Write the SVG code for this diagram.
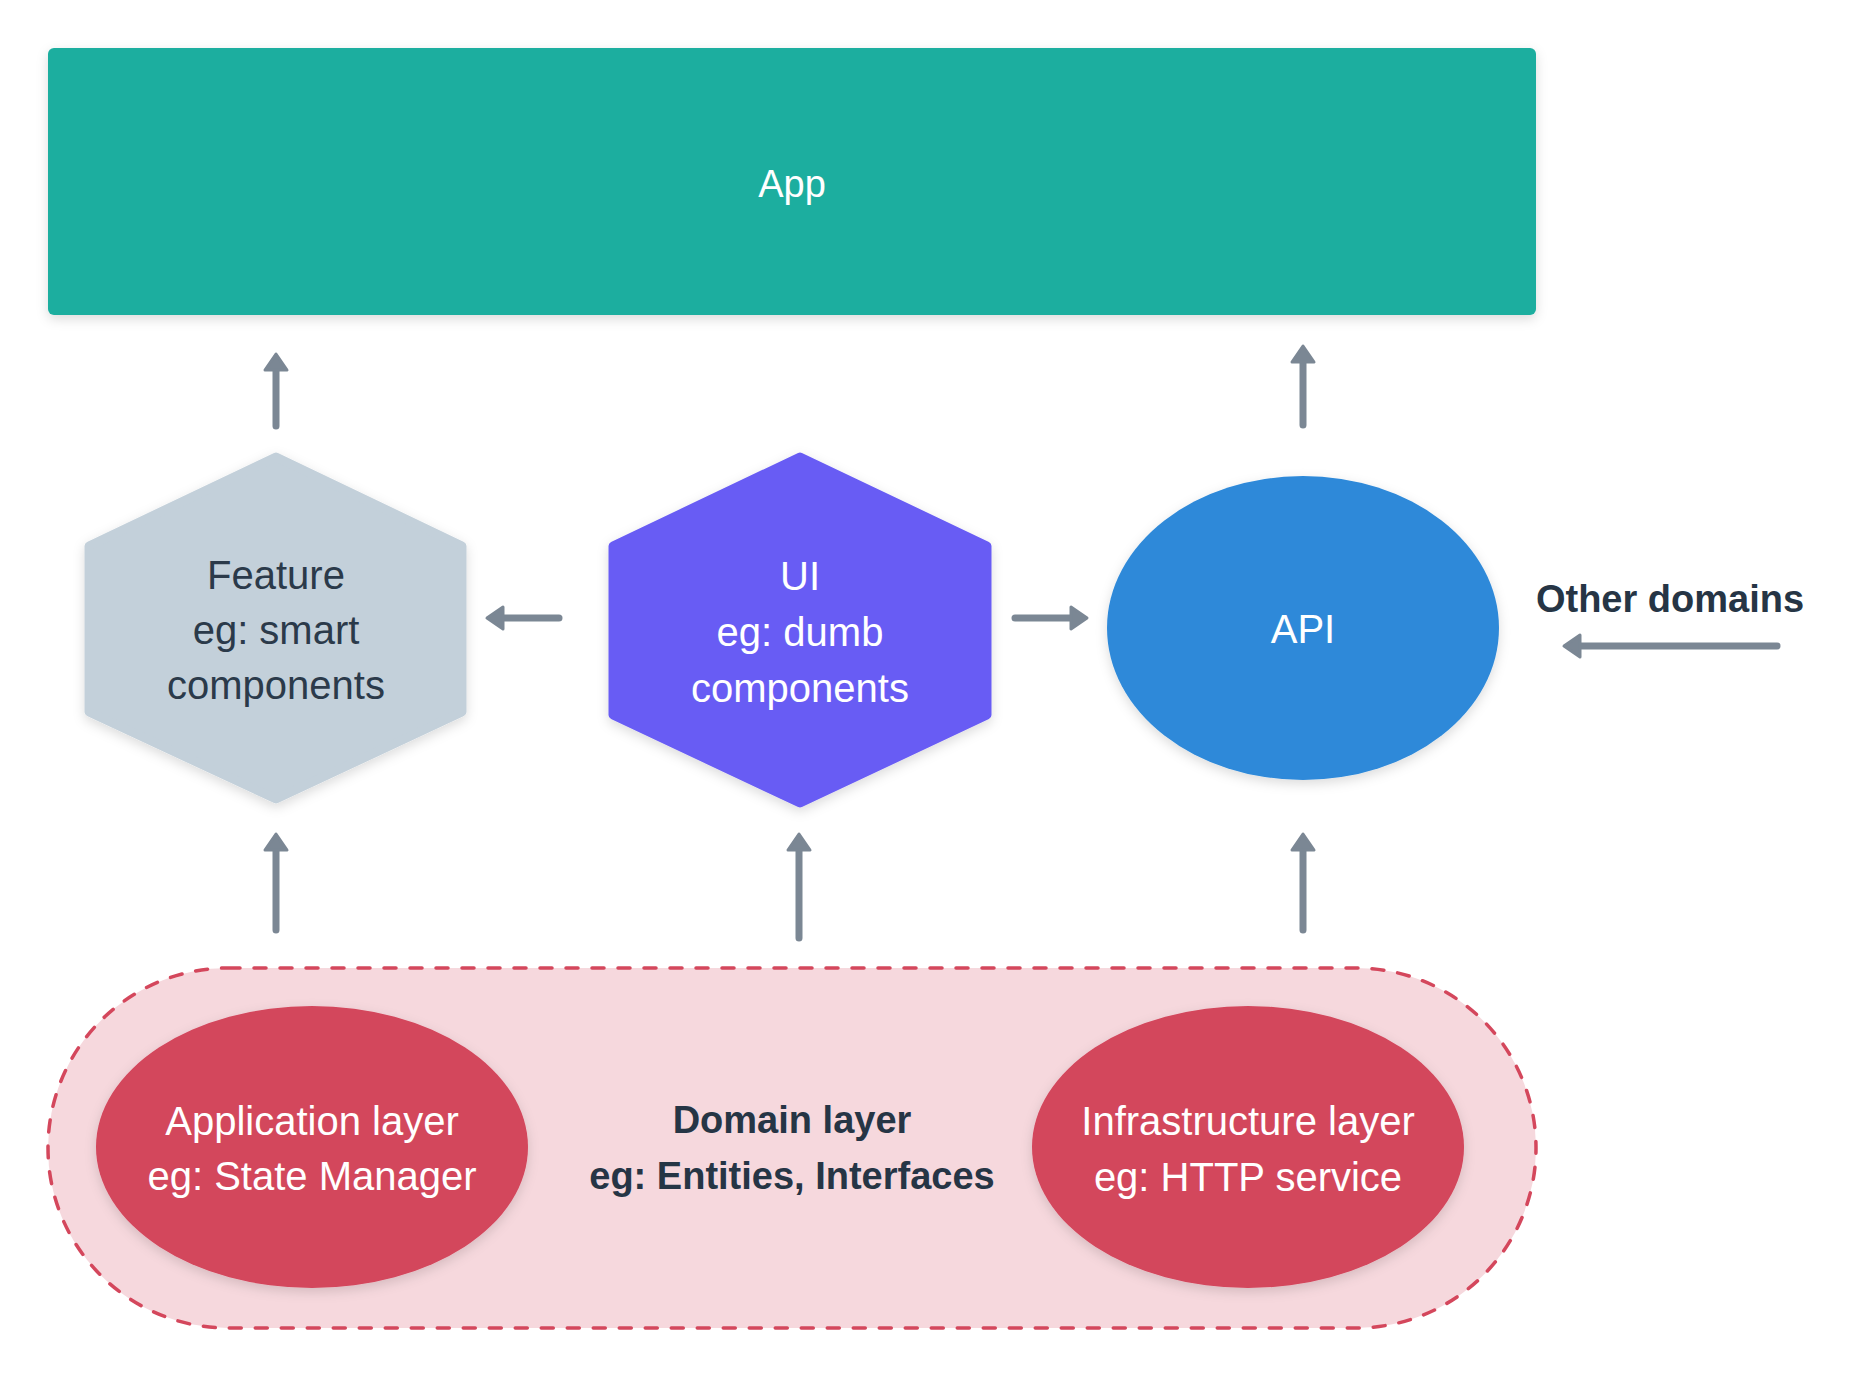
<svg xmlns="http://www.w3.org/2000/svg" width="1860" height="1376" viewBox="0 0 1860 1376">
<defs>
<filter id="sh" x="-10%" y="-10%" width="120%" height="130%">
<feDropShadow dx="0" dy="4" stdDeviation="6" flood-color="#000" flood-opacity="0.14"/>
</filter>
<marker id="ah" markerUnits="userSpaceOnUse" markerWidth="30" markerHeight="30" viewBox="-2 -15 22 30" refX="0" refY="0" orient="auto">
<path d="M0,-11 L16,0 L0,11 Z" fill="#7b8794" stroke="#7b8794" stroke-width="3" stroke-linejoin="round"/>
</marker>
</defs>
<style>
text{font-family:"Liberation Sans",Arial,sans-serif;text-anchor:middle}
.t{font-size:40px}
.b{font-size:38px;font-weight:bold;fill:#263545}
.w{fill:#ffffff}
.d{fill:#2b3a4a}
.arr{stroke:#7b8794;stroke-width:7;stroke-linecap:round;fill:none;marker-end:url(#ah)}
</style>
<rect width="1860" height="1376" fill="#ffffff"/>

<g id="domain">
<rect x="48" y="968" width="1488" height="360" rx="180" ry="180" fill="#f6d8dd" stroke="#d4475c" stroke-width="3.5" stroke-dasharray="12 14" stroke-linecap="round"/>
<text class="b" x="792" y="1133">Domain layer</text>
<text class="b" x="792" y="1189">eg: Entities, Interfaces</text>
</g>

<g id="app">
<rect x="48" y="48" width="1488" height="267" rx="6" fill="#1bae9f" filter="url(#sh)"/>
<text class="w" x="792" y="197" style="font-size:38px">App</text>
</g>

<g id="feature">
<polygon points="276,457 462,546 462,712 276,799 89,712 89,546" fill="#c3d0da" stroke="#c3d0da" stroke-width="9" stroke-linejoin="round" filter="url(#sh)"/>
<text class="t d" x="276" y="589">Feature</text>
<text class="t d" x="276" y="644">eg: smart</text>
<text class="t d" x="276" y="699">components</text>
</g>

<g id="ui">
<polygon points="800,457 987,546 987,715 800,803 613,715 613,546" fill="#685cf4" stroke="#685cf4" stroke-width="9" stroke-linejoin="round" filter="url(#sh)"/>
<text class="t w" x="800" y="590">UI</text>
<text class="t w" x="800" y="646">eg: dumb</text>
<text class="t w" x="800" y="702">components</text>
</g>

<g id="api">
<ellipse cx="1303" cy="628" rx="196" ry="152" fill="#2e89d9" filter="url(#sh)"/>
<text class="t w" x="1303" y="643">API</text>
</g>

<g id="other-domains">
<text class="b" x="1670" y="612">Other domains</text>
</g>

<g id="application-layer">
<ellipse cx="312" cy="1147" rx="216" ry="141" fill="#d3465c" filter="url(#sh)"/>
<text class="t w" x="312" y="1135">Application layer</text>
<text class="t w" x="312" y="1190">eg: State Manager</text>
</g>

<g id="infrastructure-layer">
<ellipse cx="1248" cy="1147" rx="216" ry="141" fill="#d3465c" filter="url(#sh)"/>
<text class="t w" x="1248" y="1135">Infrastructure layer</text>
<text class="t w" x="1248" y="1191">eg: HTTP service</text>
</g>

<g id="connectors">
<line class="arr" x1="276" y1="426" x2="276" y2="370"/>
<line class="arr" x1="1303" y1="425" x2="1303" y2="362"/>
<line class="arr" x1="559" y1="618" x2="503" y2="618"/>
<line class="arr" x1="1015" y1="618" x2="1071" y2="618"/>
<line class="arr" x1="1777" y1="646" x2="1580" y2="646"/>
<line class="arr" x1="276" y1="930" x2="276" y2="850"/>
<line class="arr" x1="799" y1="938" x2="799" y2="850"/>
<line class="arr" x1="1303" y1="930" x2="1303" y2="850"/>
</g>
</svg>
